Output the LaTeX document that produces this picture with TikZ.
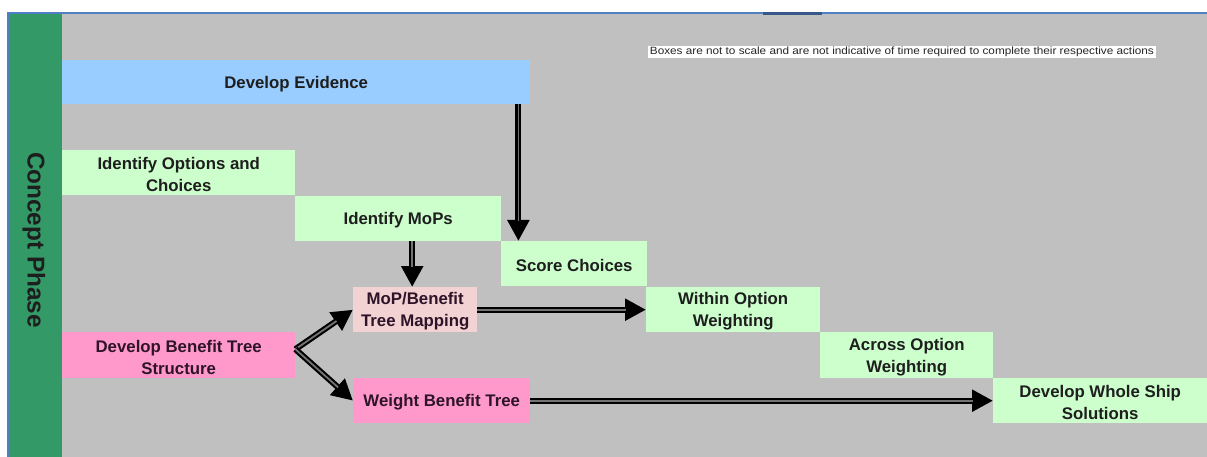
\documentclass[tikz,border=0pt]{standalone}
\usepackage{fontspec}
\setmainfont{Liberation Sans}
\usetikzlibrary{arrows.meta}
\definecolor{phasegreen}{HTML}{339966}
\definecolor{panelgray}{HTML}{C0C0C0}
\definecolor{evblue}{HTML}{99CCFF}
\definecolor{stepgreen}{HTML}{CCFFCC}
\definecolor{treepink}{HTML}{FF99CC}
\definecolor{mappink}{HTML}{F2D2D2}
\definecolor{frameblue}{HTML}{4F7FC4}
\definecolor{labelink}{HTML}{1E1E1E}
\definecolor{pinkink}{HTML}{2E1428}
\tikzset{
  taskbox/.style={rectangle, anchor=north west, inner sep=0pt},
  tasktext/.style={inner sep=0pt, align=center,
    font=\bfseries\fontsize{16.8}{22}\selectfont, text=labelink},
  flow/.style={draw=black, line width=6pt,
    -{Triangle[length=21pt,width=21pt]},
    postaction={draw=black!55, line width=1.8pt, shorten >=20pt, -}},
}
% box with its label set a little below the centre
\newcommand\taskat[7][labelink]{%
  \node[taskbox, fill=#5, minimum width=#3pt, minimum height=#4pt] (#6) at (#2) {};
  \node[tasktext, text=#1] (#6-label) at ([yshift=-1.8pt]#6.center) {#7};}
\begin{document}
\begin{tikzpicture}[x=1pt,y=-1pt]
\useasboundingbox (0,0) rectangle (1207,457);
\fill[white] (0,0) rectangle (1207,457);
% frame, phase strip and panel
\fill[panelgray] (62,14) rectangle (1207,457);
\fill[phasegreen] (8,14) rectangle (62,457);
\draw[frameblue, line width=2pt] (8,457) -- (8,13) -- (1207,13);
\draw[frameblue!70!black, line width=3pt] (763,13.5) -- (822,13.5);
\node[rotate=-90, font=\bfseries\fontsize{24.3}{26}\selectfont, text=labelink] (phase) at (34,240) {Concept Phase};
% note
\node[fill=white, inner xsep=1.5pt, inner ysep=1.5pt, xscale=1.12, font=\fontsize{10.5}{12}\selectfont, text=black!85, anchor=west] (note) at (648,52) {Boxes are not to scale and are not indicative of time required to complete their respective actions};
% task boxes
\taskat{62,60}{468}{44}{evblue}{ev}{Develop Evidence}
\taskat{62,150}{233}{45}{stepgreen}{opt}{Identify Options and\\Choices}
\taskat{295,196}{206}{45}{stepgreen}{mops}{Identify MoPs}
\taskat{501,241}{146}{45}{stepgreen}{sc}{Score Choices}
\taskat[pinkink]{353,287}{124}{45}{mappink}{map}{MoP/Benefit\\Tree Mapping}
\taskat{646,287}{174}{45}{stepgreen}{within}{Within Option\\Weighting}
\taskat[pinkink]{62,332}{233}{46}{treepink}{dbts}{Develop Benefit Tree\\Structure}
\taskat{820,332}{173}{46}{stepgreen}{across}{Across Option\\Weighting}
\taskat[pinkink]{353,378}{177}{45}{treepink}{wbt}{Weight Benefit Tree}
\taskat{993,378}{214}{45}{stepgreen}{whole}{Develop Whole Ship\\Solutions}
% connectors
\coordinate (evfoot) at ([xshift=-12pt]ev.south east);
\coordinate (fork) at ([yshift=6pt]dbts.east);
\draw[flow] (evfoot) -- (evfoot |- sc.north);
\draw[flow] ([xshift=-3pt]map.north |- mops.south) -- ([xshift=-3pt]map.north);
\draw[flow] (map.east) -- (within.west);
\draw[flow] (wbt.east) -- (whole.west);
\draw[flow] (fork) -- (map.west);
\draw[flow] (fork) -- (wbt.west);
\end{tikzpicture}
\end{document}
